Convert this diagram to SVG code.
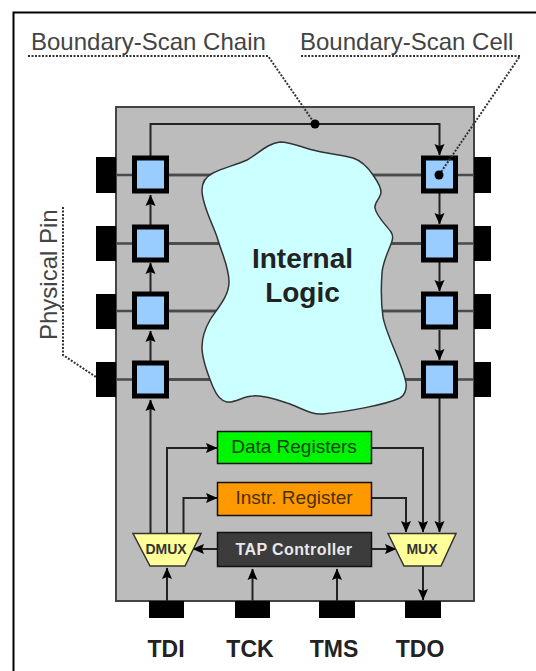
<svg xmlns="http://www.w3.org/2000/svg" width="536" height="671" viewBox="0 0 536 671">
<style>
text{font-family:"Liberation Sans",Arial,sans-serif}
.lbl{font-size:24px;fill:#444}
.pinl{font-size:23px;font-weight:bold;fill:#222;text-anchor:middle}
.cell{fill:#99ccff;stroke:#000;stroke-width:5}
.pin{fill:#000}
.w{fill:none;stroke:#4a4a4a;stroke-width:2.500}
.c{fill:none;stroke:#222;stroke-width:2}
.lead{fill:none;stroke:#333;stroke-width:2;stroke-dasharray:2 1.500}
.mux{fill:#ffff99;stroke:#333;stroke-width:1.500}
.box{stroke:#111;stroke-width:1.500}
</style>
<defs>
<marker id="a" markerUnits="userSpaceOnUse" markerWidth="12" markerHeight="12" viewBox="0 0 12 12" refX="11" refY="6" orient="auto"><path d="M0 1L11.500 6L0 11L2 6Z" fill="#000"/></marker>
</defs>
<path d="M13.500 671V12.500H536" fill="none" stroke="#000" stroke-width="2"/>
<g id="chip"><rect x="116" y="107" width="358" height="494" fill="#bcbcbc" stroke="#444" stroke-width="2"/></g>
<g id="connectors">
<path class="w" d="M116 175H421M116 243.500H421M116 311H421M116 379.500H421"/>
<path class="w" d="M169 175H474M169 243.500H474M169 311H474M169 379.500H474"/>
<path class="c" d="M150.500 157V124H439.500V155" marker-end="url(#a)"/>
<path class="c" d="M150.500 225V195" marker-end="url(#a)"/>
<path class="c" d="M150.500 292V263" marker-end="url(#a)"/>
<path class="c" d="M150.500 361V331" marker-end="url(#a)"/>
<path class="c" d="M150.500 533V400" marker-end="url(#a)"/>
<path class="c" d="M439.500 193V224" marker-end="url(#a)"/>
<path class="c" d="M439.500 262V291" marker-end="url(#a)"/>
<path class="c" d="M439.500 330V360" marker-end="url(#a)"/>
<path class="c" d="M439.500 398V532" marker-end="url(#a)"/>
<path class="c" d="M167 533V448H217" marker-end="url(#a)"/>
<path class="c" d="M183.500 533V498H217" marker-end="url(#a)"/>
<path class="c" d="M372 448H423V532" marker-end="url(#a)"/>
<path class="c" d="M372 498H406V532" marker-end="url(#a)"/>
<path class="c" d="M217 549H193" marker-end="url(#a)"/>
<path class="c" d="M372 549H396" marker-end="url(#a)"/>
<path class="c" d="M167 601V568" marker-end="url(#a)"/>
<path class="c" d="M252.500 601V569" marker-end="url(#a)"/>
<path class="c" d="M337 601V569" marker-end="url(#a)"/>
<path class="c" d="M423 566V600" marker-end="url(#a)"/>
</g>
<g id="internal-logic">
<path d="M280 142C292 142 303 148 317 151C330 154 343 155 353 158C362 161 369 169 373 175C377 181 381 186 381 192C381 198 374 202 375 208C376 216 387 226 391 232C393 235 393 238 392 241C389 251 383 260 382 273C381 287 381 303 383 317C386 335 403 365 406 383C407 390 404 396 400 398C385 405 345 412 323 414C310 415 300 407 287 403C275 399 262 395 253 396C243 396 236 403 227 402C220 401 216 394 213 387C208 375 202 360 202 347C202 335 206 327 210 320C216 310 229 297 229 282C229 267 222 254 217 237C212 222 202 205 202 190C202 182 207 176 213 173C223 168 236 165 247 160C258 154 268 143 280 142Z" fill="#ccffff" stroke="#333" stroke-width="1.500"/>
<text x="302.500" y="268" font-size="28" font-weight="bold" fill="#222" text-anchor="middle">Internal</text>
<text x="302.500" y="302" font-size="28" font-weight="bold" fill="#222" text-anchor="middle">Logic</text>
</g>
<g id="pins-left"><rect class="pin" x="96" y="157" width="20" height="36"/><rect class="pin" x="96" y="226" width="20" height="35"/><rect class="pin" x="96" y="294" width="20" height="35"/><rect class="pin" x="96" y="362" width="20" height="35"/></g>
<g id="pins-right"><rect class="pin" x="474" y="157" width="17" height="36"/><rect class="pin" x="474" y="226" width="17" height="35"/><rect class="pin" x="474" y="294" width="17" height="35"/><rect class="pin" x="474" y="362" width="17" height="35"/></g>
<g id="cells-left"><rect class="cell" x="134.500" y="158" width="32" height="33"/><rect class="cell" x="134.500" y="227" width="32" height="33"/><rect class="cell" x="134.500" y="294" width="32" height="33"/><rect class="cell" x="134.500" y="363" width="32" height="33"/></g>
<g id="cells-right"><rect class="cell" x="423.500" y="158" width="32" height="33"/><rect class="cell" x="423.500" y="227" width="32" height="33"/><rect class="cell" x="423.500" y="294" width="32" height="33"/><rect class="cell" x="423.500" y="363" width="32" height="33"/></g>
<g id="data-registers"><rect class="box" x="217.500" y="431.500" width="154" height="32" fill="#00f500"/><text x="294" y="453" font-size="19" fill="#064406" text-anchor="middle">Data Registers</text></g>
<g id="instr-register"><rect class="box" x="217.500" y="482.500" width="154" height="33" fill="#ff9900"/><text x="294" y="504" font-size="19" fill="#4a3000" text-anchor="middle">Instr. Register</text></g>
<g id="tap-controller"><rect class="box" x="217.500" y="532.500" width="154" height="34" fill="#3c3c3c"/><text x="294" y="555" font-size="16" font-weight="bold" letter-spacing=".4" fill="#e8e8e8" text-anchor="middle">TAP Controller</text></g>
<g id="dmux"><path class="mux" d="M133 533.500H201L185 566H150Z"/><text x="166" y="554" font-size="14" font-weight="bold" fill="#333" text-anchor="middle">DMUX</text></g>
<g id="mux"><path class="mux" d="M388 533.500H456L441 566H404Z"/><text x="422" y="554" font-size="14" font-weight="bold" fill="#333" text-anchor="middle">MUX</text></g>
<g id="pin-tdi"><rect class="pin" x="149" y="601" width="35" height="17"/><text class="pinl" x="166" y="657">TDI</text></g>
<g id="pin-tck"><rect class="pin" x="235" y="601" width="35" height="17"/><text class="pinl" x="250" y="657">TCK</text></g>
<g id="pin-tms"><rect class="pin" x="319" y="601" width="36" height="17"/><text class="pinl" x="334" y="657">TMS</text></g>
<g id="pin-tdo"><rect class="pin" x="405" y="601" width="36" height="17"/><text class="pinl" x="420" y="657">TDO</text></g>
<g id="leaders">
<path class="lead" d="M28 56H268L315 124"/>
<path class="lead" d="M301 56H520L439 175"/>
<path class="lead" d="M63 207V355L96 377"/>
<circle cx="315" cy="124" r="4.500" fill="#000"/>
<circle cx="439" cy="175" r="4.500" fill="#000"/>
<text class="lbl" x="31" y="50">Boundary-Scan Chain</text>
<text class="lbl" x="300" y="50">Boundary-Scan Cell</text>
<text class="lbl" transform="translate(57 340) rotate(-90)">Physical Pin</text>
</g>
</svg>
